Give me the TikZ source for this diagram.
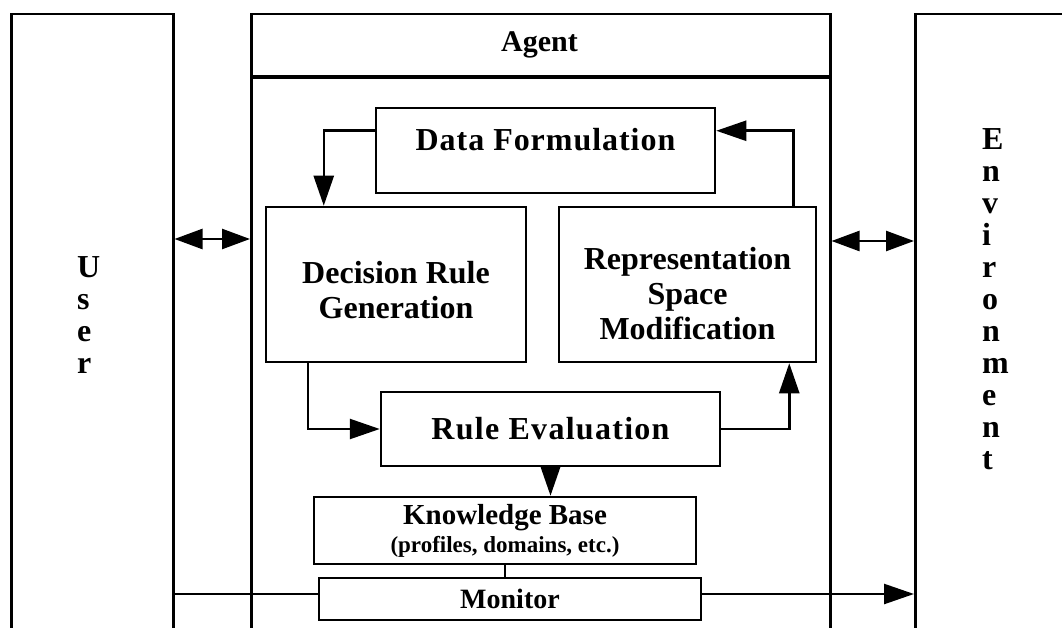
\documentclass[tikz,border=0pt]{standalone}
\usepackage{fontspec}
\setmainfont{Liberation Serif}
\usetikzlibrary{arrows.meta, positioning, calc}

\begin{document}
\begin{tikzpicture}[
				x=1pt, y=-1pt,
				box/.style={rectangle, draw, line width=2.5pt, align=center, inner sep=0pt},
				bigtxt/.style={font=\fontsize{32}{35}\selectfont\bfseries},
				spaced/.style={font={\fontsize{32}{35}\selectfont\bfseries\addfontfeature{LetterSpace=#1}}},
				column/.style={font=\fontsize{32}{32}\selectfont\bfseries, align=left, inner sep=0pt, anchor=north west},
				arrow/.style={-{Triangle[length=30pt, width=20pt]}, line width=2.5pt},
				dblarrow/.style={{Triangle[length=28pt, width=20pt]}-{Triangle[length=28pt, width=20pt]}, line width=2.5pt}
			]

			\clip (0,0) rectangle (1062,628);

			% 1. Kolom luar: User, Agent, Environment
			\node[box, anchor=north west, minimum width=162, minimum height=640] (user) at (10,13) {};
			\node[box, anchor=north west, minimum width=579, minimum height=615] (agent) at (250,13) {};
			\node[box, anchor=north west, minimum width=148, minimum height=640] (env) at (914,13) {};

			% Judul Agent dan garis tebal di bawahnya
			\node[font=\fontsize{30}{32}\selectfont\bfseries] (agenttitle) at (539.5,45) {Agent};
			\draw[line width=4pt] ([yshift=-64pt]agent.north west) -- ([yshift=-64pt]agent.north east);

			% Teks tegak pada kolom samping
			\node[column] (usertxt) at (77,256) {U\\s\\e\\r};
			\node[column] (envtxt) at (982,128) {E\\n\\v\\i\\r\\o\\n\\m\\e\\n\\t};

			% 2. Blok-blok di dalam Agent
			\node[box, spaced=3, minimum width=339, minimum height=85, text height=22pt, text depth=22pt] (df) at (545.5,150.5) {Data Formulation};
			\node[box, bigtxt, minimum width=260, minimum height=155] (drg) at (396,284.5) {\rule{0pt}{34pt}Decision Rule\\Generation};
			\node[box, bigtxt, minimum width=257, minimum height=155] (rsm) at (687.5,284.5) {\rule{0pt}{40pt}Representation\\Space\\Modification};
			\node[box, spaced=4, minimum width=339, minimum height=74] (re) at (550.5,429) {Rule Evaluation};
			\node[box, font=\fontsize{29}{28}\selectfont\bfseries, minimum width=382, minimum height=67] (kb) at (505,530.5) {Knowledge Base\\{\fontsize{23}{28}\selectfont(profiles, domains, etc.)}};
			\node[box, font=\fontsize{28}{30}\selectfont\bfseries, minimum width=382, minimum height=42] (mon) at (510,599) {Monitor};

			% 3. Panah hubungan
			\draw[dblarrow] ([yshift=-226pt]user.north east) -- ([yshift=-226pt]agent.north west);
			\draw[dblarrow] ([yshift=-228pt]agent.north east) -- ([yshift=-228pt]env.north west);

			\draw[arrow] ([yshift=-24pt]df.north west) -| ([xshift=59pt]drg.north west);
			\draw[arrow] ([xshift=-24pt]rsm.north east) |- ([yshift=-24pt]df.north east);
			\draw[arrow] ([xshift=43pt]drg.south west) |- (re.west);
			\draw[arrow] (re.east) -| ([xshift=-28pt]rsm.south east);
			\draw[arrow] (re.south) -- (re.south |- kb.north);
			\draw[line width=2pt] (kb.south) -- (kb.south |- mon.north);

			% Jalur Monitor dari User ke Environment
			\draw[line width=2.5pt] (user.east |- mon.west) ++(0,-5) -- ([yshift=5pt]mon.west);
			\draw[arrow] ([yshift=5pt]mon.east) -- ([yshift=5pt]env.west |- mon.east);

		\end{tikzpicture}
\end{document}
